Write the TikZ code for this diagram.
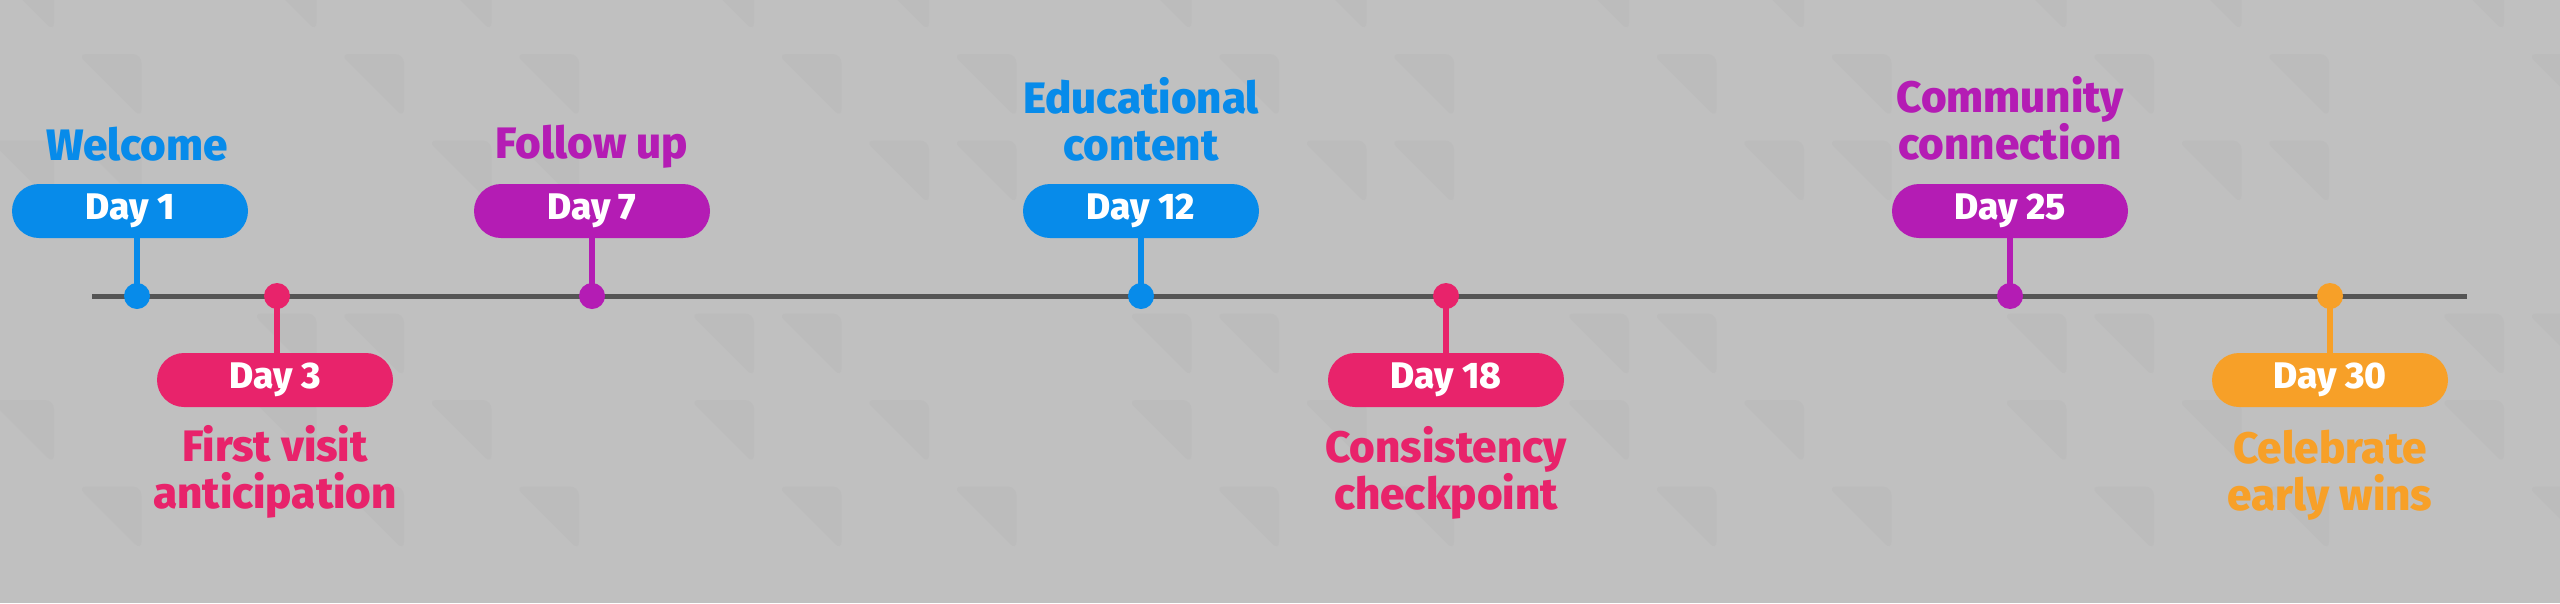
\documentclass[tikz,border=0pt]{standalone}
\usepackage{fontspec}
\setmainfont{Fira Sans}[BoldFont={Fira Sans ExtraBold}]
\definecolor{bgcol}{HTML}{C0C0C0}
\definecolor{patcol}{HTML}{BCBCBC}
\definecolor{linecol}{HTML}{555555}
\definecolor{cblue}{HTML}{078BEA}
\definecolor{cmag}{HTML}{B41CB4}
\definecolor{cpink}{HTML}{E8236B}
\definecolor{corange}{HTML}{F7A028}
\begin{document}
\begin{tikzpicture}[x=1pt,y=-1pt,
  pill/.style={rectangle, rounded corners=27pt, minimum width=236pt, minimum height=54pt, inner sep=0pt, text=white, font=\fontsize{37}{40}\selectfont\bfseries},
  dotnode/.style={circle, minimum size=26pt, inner sep=0pt},
  stem/.style={line width=6pt},
  lab/.style={align=center, anchor=base, font=\fontsize{44}{47}\selectfont\bfseries},
  tline/.style={line width=5pt, draw=linecol},
  tri/.style={fill=patcol, rounded corners=9pt}]
\useasboundingbox (0,0) rectangle (2560,603);
\fill[bgcol] (0,0) rectangle (2560,603);
% faint background pattern
\foreach \i in {0,...,29}{
  \foreach \j in {0,...,6}{
    \pgfmathtruncatemacro{\sel}{mod(\i*7+\j*3+\i*\j,5)}
    \ifnum\sel<2
      \fill[tri] ({-10+87.5*\i},{54+86.5*\j-86.5}) -- ({54+87.5*\i},{54+86.5*\j-86.5}) -- ({54+87.5*\i},{118+86.5*\j-86.5}) -- cycle;
    \fi
  }
}
% timeline
\coordinate (ls) at (92,296);
\coordinate (le) at (2467,296);
\draw[tline] (ls) -- (le);
% pills
\node[pill, fill=cblue] (p1) at (130,211) {Day 1};
\node[pill, fill=cpink] (p3) at (275,380) {Day 3};
\node[pill, fill=cmag] (p7) at (592,211) {Day 7};
\node[pill, fill=cblue] (p12) at (1141,211) {Day 12};
\node[pill, fill=cpink] (p18) at (1446,380) {Day 18};
\node[pill, fill=cmag] (p25) at (2010,211) {Day 25};
\node[pill, fill=corange] (p30) at (2330,380) {Day 30};
% dots
\coordinate (c1) at (137,296);
\coordinate (c3) at (277,296);
\coordinate (c7) at (592,296);
\coordinate (c12) at (1141,296);
\coordinate (c18) at (1446,296);
\coordinate (c25) at (2010,296);
\coordinate (c30) at (2330,296);
% stems
\draw[stem, cblue] (c1) -- (c1 |- p1.south);
\draw[stem, cpink] (c3) -- (c3 |- p3.north);
\draw[stem, cmag] (c7) -- (c7 |- p7.south);
\draw[stem, cblue] (c12) -- (c12 |- p12.south);
\draw[stem, cpink] (c18) -- (c18 |- p18.north);
\draw[stem, cmag] (c25) -- (c25 |- p25.south);
\draw[stem, corange] (c30) -- (c30 |- p30.north);
\node[dotnode, fill=cblue] (d1) at (c1) {};
\node[dotnode, fill=cpink] (d3) at (c3) {};
\node[dotnode, fill=cmag] (d7) at (c7) {};
\node[dotnode, fill=cblue] (d12) at (c12) {};
\node[dotnode, fill=cpink] (d18) at (c18) {};
\node[dotnode, fill=cmag] (d25) at (c25) {};
\node[dotnode, fill=corange] (d30) at (c30) {};
% labels (base anchor = last line baseline)
\node[lab, text=cblue] (t1) at (137,160) {Welcome};
\node[lab, text=cpink] (t3) at (275,508) {First visit\\anticipation};
\node[lab, text=cmag] (t7) at (592,158) {Follow up};
\node[lab, text=cblue] (t12) at (1141,160) {Educational\\content};
\node[lab, text=cpink] (t18) at (1446,509) {Consistency\\checkpoint};
\node[lab, text=cmag] (t25) at (2010,159) {Community\\connection};
\node[lab, text=corange] (t30) at (2330,510) {Celebrate\\early wins};
\end{tikzpicture}
\end{document}
